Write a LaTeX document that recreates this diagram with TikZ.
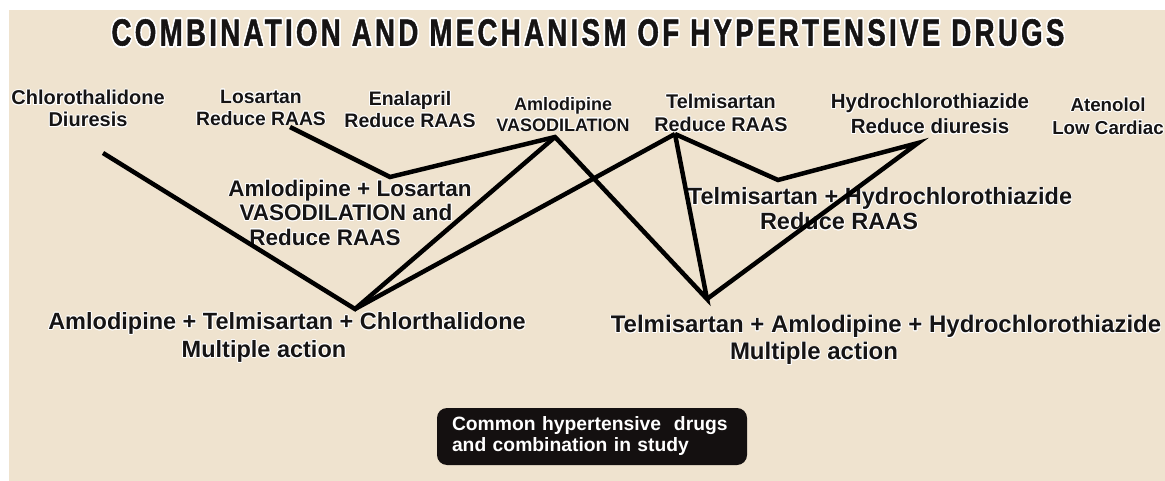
\documentclass[tikz,border=0pt]{standalone}
\usepackage{fontspec}
\setmainfont{Liberation Sans}
\newfontfamily\titlefont{Liberation Sans Bold}[LetterSpace=12,FakeBold=1.5]
\usepackage{graphicx}
\usepackage[copies]{contour}
\contournumber{16}
\contourlength{0.8pt}
\definecolor{bg}{RGB}{239,227,207}
\definecolor{ink}{RGB}{22,20,20}
\definecolor{boxfill}{RGB}{20,16,16}
\newcommand\hl[1]{\contour{white}{#1}}
\begin{document}
\begin{tikzpicture}[x=1pt,y=-1pt,
  lbl/.style={text=ink, align=center, inner sep=0pt},
  conn/.style={draw=black, line width=4.5pt, line join=miter},
  infobox/.style={fill=boxfill, rounded corners=10pt, text=white, align=left,
    minimum width=310pt, minimum height=57pt, text width=280pt, inner xsep=15pt, inner ysep=0pt}]
\clip (0,0) rectangle (1165,481);
\fill[white] (0,0) rectangle (1165,481);
\fill[bg] (9,10) rectangle (1165,481);

% title
\node[inner sep=0pt, text=ink] (title) at (588,33.5)
  {\contourlength{2pt}\resizebox{953pt}{\height}{\titlefont\fontsize{37.7}{40}\selectfont\contour{white}{COMBINATION AND MECHANISM OF HYPERTENSIVE DRUGS}}};

% single drugs
\node[lbl, font=\bfseries\fontsize{20}{22}\selectfont] (chl) at (88,109) {\hl{Chlorothalidone}\\\hl{Diuresis}};
\node[lbl, font=\bfseries\fontsize{19.3}{22}\selectfont] (los) at (261,108) {\hl{Losartan}\\\hl{Reduce RAAS}};
\node[lbl, font=\bfseries\fontsize{19.5}{22}\selectfont] (ena) at (410,110) {\hl{Enalapril}\\\hl{Reduce RAAS}};
\node[lbl, font=\bfseries\fontsize{18}{21}\selectfont] (aml) at (563,114.5) {\hl{Amlodipine}\\\hl{VASODILATION}};
\node[lbl, font=\bfseries\fontsize{19.8}{23}\selectfont] (tel) at (721,113.5) {\hl{Telmisartan}\\\hl{Reduce RAAS}};
\node[lbl, font=\bfseries\fontsize{20.5}{25}\selectfont] (hct) at (930,114.5) {\hl{Hydrochlorothiazide}\\\hl{Reduce diuresis}};
\node[lbl, font=\bfseries\fontsize{18.75}{23}\selectfont] (ate) at (1108,116.5) {\hl{Atenolol}\\\hl{Low Cardiac}};

% combinations
\node[lbl, font=\bfseries\fontsize{22.5}{24.5}\selectfont] (al) at (350,213) {\hl{Amlodipine + Losartan}\\\hspace*{-8pt}\hl{VASODILATION and}\\\hspace*{-50pt}\hl{Reduce RAAS}};
\node[lbl, font=\bfseries\fontsize{23.5}{25}\selectfont] (th) at (880,209.5) {\hl{Telmisartan + Hydrochlorothiazide}\\\hspace*{-82pt}\hl{Reduce RAAS}};
\node[lbl, font=\bfseries\fontsize{23.5}{28}\selectfont] (atc) at (287,338) {\hl{Amlodipine + Telmisartan + Chlorthalidone}\\\hspace*{-46pt}\hl{Multiple action}};
\node[lbl, font=\bfseries\fontsize{24}{27}\selectfont] (tah) at (886,340.5) {\hl{Telmisartan + Amlodipine + Hydrochlorothiazide}\\\hspace*{-144pt}\hl{Multiple action}};

% info box
\node[infobox, font=\bfseries\fontsize{19.3}{21}\selectfont] (info) at (592,436.5) {Common hypertensive\ \ drugs\\and combination in study};

% connector points
\coordinate (pChl) at (103,153);
\coordinate (pLos) at (290,127);
\coordinate (pV1) at (390,177);
\coordinate (pAml) at (555,137);
\coordinate (pTel) at (675,134);
\coordinate (pATC) at (355,309);
\coordinate (pTAH) at (707,299);
\coordinate (pHct) at (918,143);
\coordinate (pV2) at (778,180);

% connectors
\draw[conn] (pChl) -- (pATC) -- (pAml);
\draw[conn] (pATC) -- (pTel);
\draw[conn] (pLos) -- (pV1) -- (pAml) -- (pTAH) -- (pTel);
\draw[conn] (pTel) -- (pV2) -- (pHct) -- (pTAH);
\end{tikzpicture}
\end{document}
